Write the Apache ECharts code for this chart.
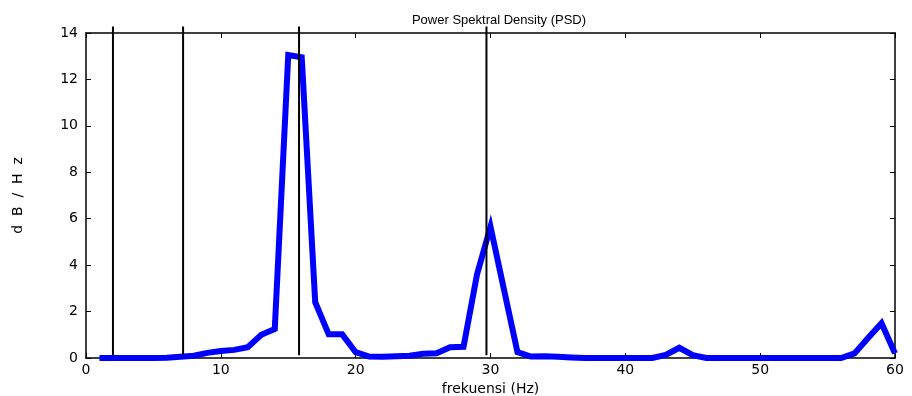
<!DOCTYPE html>
<html><head><meta charset="utf-8">
<script src="https://cdn.jsdelivr.net/npm/echarts@6/dist/echarts.min.js"></script>
<style>html,body{margin:0;padding:0;background:#fff}#c{width:912px;height:396px}</style>
</head><body><div id="c"></div>
<script>
const freq = [1,2,3,4,5,6,7,8,9,10,11,12,13,14,15,16,17,18,19,20,21,22,23,24,25,26,27,28,29,30,31,32,33,34,35,36,37,38,39,40,41,42,43,44,45,46,47,48,49,50,51,52,53,54,55,56,57,58,59,60];
const psd = [0,0,0,0,0,0.01,0.05,0.1,0.22,0.3,0.35,0.46,1.0,1.25,13.05,12.95,2.4,1.02,1.02,0.25,0.06,0.05,0.08,0.1,0.18,0.2,0.46,0.48,3.6,5.66,2.95,0.25,0.06,0.08,0.05,0.02,0,0,0,0,0,0,0.13,0.44,0.12,0,0,0,0,0,0,0,0,0,0,0,0.2,0.86,1.5,0.2];
const bandLines = [2, 7.2, 15.8, 29.7];
const xTicks = [0,10,20,30,40,50,60];
const yTicks = [0,2,4,6,8,10,12,14];

const font = 'Liberation Sans, Arial, sans-serif';
const wfont = 'DejaVu Sans, sans-serif';
const series = [{
  type:'line', data: freq.map((f,i)=>[f,psd[i]]), symbol:'none',
  lineStyle:{color:'#0000ff', width:6, join:'miter'}, z:3, animation:false
}];
bandLines.forEach(b=>{
  series.push({type:'line', data:[[b,0.12],[b,14.28]], symbol:'none', clip:false,
    lineStyle:{color:'#000', width:2}, z:4, animation:false});
});
const line = {onZero:false, lineStyle:{color:'#000', width:1.5}};
const tick = {inside:true, length:5, lineStyle:{color:'#000'}};
const chart = echarts.init(document.getElementById('c'));
chart.setOption({
  animation:false,
  title:{text:'Power Spektral Density (PSD)', left:494, top:9, textAlign:'center',
    textStyle:{fontFamily:font, fontSize:13, fontWeight:'normal', color:'#000'}},
  grid:{left:86, right:17, top:33, bottom:38, outerBoundsMode:'none', containLabel:false},
  xAxis:[{type:'value', min:0, max:60, interval:10, position:'bottom',
    name:'frekuensi (Hz)', nameLocation:'middle', nameGap:17,
    nameTextStyle:{fontFamily:wfont, fontSize:14, color:'#000'},
    axisLine:line, axisTick:tick,
    axisLabel:{fontFamily:wfont, fontSize:14, color:'#000', margin:5},
    splitLine:{show:false}},
   {type:'value', min:0, max:60, interval:10, position:'top',
    axisLine:line, axisTick:tick,
    axisLabel:{show:false}, splitLine:{show:false}}],
  yAxis:[{type:'value', min:0, max:14, interval:2, position:'left',
    name:'d  B  /  H  z', nameLocation:'middle', nameGap:61, nameRotate:90,
    nameTextStyle:{fontFamily:wfont, fontSize:14, color:'#000'},
    axisLine:line, axisTick:tick,
    axisLabel:{fontFamily:wfont, fontSize:14, color:'#000', margin:8},
    splitLine:{show:false}},
   {type:'value', min:0, max:14, interval:2, position:'right',
    axisLine:line, axisTick:tick,
    axisLabel:{show:false}, splitLine:{show:false}}],
  series: series
});
</script></body></html>
